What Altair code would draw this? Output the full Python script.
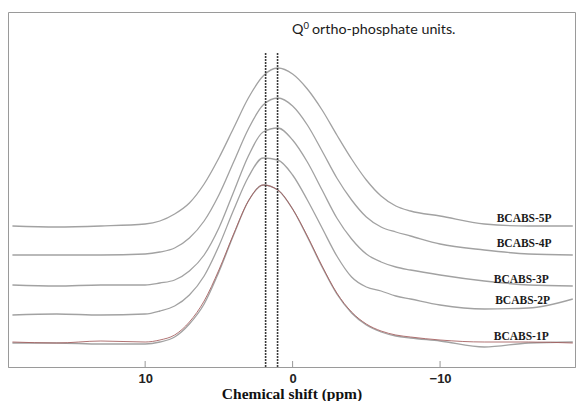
import altair as alt
import pandas as pd

# Chemical shift grid (ppm) at which each spectrum was read
ppm = [19, 16, 13, 10, 9, 8, 7, 6, 5, 4, 3, 2, 1, 0, -1, -2, -3, -4, -5, -6, -7, -8, -10, -13, -16, -19]

# Stacked 31P NMR intensities (arbitrary units, offset per sample)
bcabs_1p = [24, 24, 23, 23, 25, 30, 43, 63, 95, 132, 166, 182, 177, 158, 130, 100, 73, 54, 42, 35, 31, 29, 26, 20, 24, 25]
bcabs_1p_fit = [25, 24, 26, 25, 27, 32, 45, 66, 97, 133, 166, 182, 177, 158, 131, 101, 74, 55, 43, 36, 32, 30, 27, 25, 25, 24]
bcabs_2p = [52, 53, 52, 53, 56, 61, 72, 91, 121, 157, 190, 209, 207, 192, 167, 139, 111, 90, 80, 76, 71, 68, 62, 58, 59, 68]
bcabs_3p = [82, 81, 82, 82, 84, 87, 96, 112, 139, 175, 211, 235, 239, 227, 205, 177, 149, 128, 113, 105, 100, 97, 92, 86, 82, 81]
bcabs_4p = [112, 112, 112, 113, 115, 119, 129, 146, 172, 205, 238, 262, 269, 261, 242, 216, 189, 167, 150, 140, 135, 131, 123, 117, 113, 112]
bcabs_5p = [141, 140, 141, 143, 146, 153, 164, 183, 209, 239, 269, 291, 299, 293, 278, 257, 232, 208, 187, 171, 161, 156, 151, 143, 141, 141]

series_names = ["BCABS-1P", "BCABS-2P", "BCABS-3P", "BCABS-4P", "BCABS-5P"]
series_values = [bcabs_1p, bcabs_2p, bcabs_3p, bcabs_4p, bcabs_5p]

# Series labels (ppm position, intensity position)
label_ppm = [-15.5, -15.6, -15.5, -15.7, -15.7]
label_int = [30, 66, 87, 123, 148]

# Dashed reference lines (ppm) and their vertical extent (intensity units)
dash_ppm = [1.83, 1.02]
dash_top = [314, 314]
dash_bottom = [0, 0]

tick_values = [10, 0, -10]
title_main = "Q"
title_sup = "0"
title_rest = "ortho-phosphate units."

rows = []
for name, vals in zip(series_names, series_values):
    for p, v in zip(ppm, vals):
        rows.append({"series": name, "ppm": p, "intensity": v})
df = pd.DataFrame(rows)
df_fit = pd.DataFrame({"ppm": ppm, "intensity": bcabs_1p_fit})
df_labels = pd.DataFrame({"label": series_names, "ppm": label_ppm, "intensity": label_int})
df_dash = pd.DataFrame({"ppm": dash_ppm, "intensity": dash_top, "intensity2": dash_bottom})
df_ticks = pd.DataFrame({"ppm": tick_values})

x_scale = alt.Scale(domain=[19.3, -19.15], nice=False, zero=False)
y_scale = alt.Scale(domain=[0, 355], nice=False, zero=False)

x_axis = alt.Axis(values=tick_values, title="Chemical shift (ppm)", format="d")

lines = alt.Chart(df).mark_line(color="#a2a2a2", strokeWidth=1.3, interpolate="monotone", clip=True).encode(
    x=alt.X("ppm:Q", scale=x_scale, axis=x_axis),
    y=alt.Y("intensity:Q", scale=y_scale, axis=None),
    detail="series:N",
)

fit = alt.Chart(df_fit).mark_line(color="#a35a5a", strokeWidth=1.0, interpolate="monotone", clip=True, opacity=0.85).encode(
    x=alt.X("ppm:Q", scale=x_scale),
    y=alt.Y("intensity:Q", scale=y_scale),
)

dashes = alt.Chart(df_dash).mark_rule(color="#3a3a3a", strokeWidth=1.6, strokeDash=[2, 1]).encode(
    x=alt.X("ppm:Q", scale=x_scale),
    y=alt.Y("intensity:Q", scale=y_scale),
    y2=alt.Y2("intensity2:Q"),
)

ticks = alt.Chart(df_ticks).mark_rule(color="#999999", strokeWidth=1).encode(
    x=alt.X("ppm:Q", scale=x_scale),
    y=alt.value(349),
    y2=alt.value(355),
)

labels = alt.Chart(df_labels).mark_text(
    font="Liberation Serif", fontWeight="bold", fontSize=11.5, color="#1a1a1a",
    align="center", baseline="middle",
).encode(
    x=alt.X("ppm:Q", scale=x_scale),
    y=alt.Y("intensity:Q", scale=y_scale),
    text="label:N",
)

t_main = alt.Chart(pd.DataFrame({"t": [title_main]})).mark_text(
    font="Lato", fontSize=14.3, color="#1a1a1a", align="left", baseline="middle",
).encode(x=alt.value(284), y=alt.value(18), text="t:N")

t_sup = alt.Chart(pd.DataFrame({"t": [title_sup]})).mark_text(
    font="Lato", fontSize=9.5, color="#1a1a1a", align="left", baseline="middle",
).encode(x=alt.value(295.5), y=alt.value(14), text="t:N")

t_rest = alt.Chart(pd.DataFrame({"t": [title_rest]})).mark_text(
    font="Lato", fontSize=14.3, color="#1a1a1a", align="left", baseline="middle",
).encode(x=alt.value(304), y=alt.value(18), text="t:N")

chart = alt.layer(lines, fit, dashes, ticks, labels, t_main, t_sup, t_rest).properties(
    width=567,
    height=355,
    padding={"left": 8, "top": 12, "right": 2, "bottom": 34},
    autosize=alt.AutoSizeParams(type="none"),
    background="white",
).configure_view(
    stroke="#9a9a9a", strokeWidth=1,
).configure_axis(
    grid=False,
    ticks=False,
    domainColor="#9a9a9a",
    labelFont="Liberation Sans",
    labelFontWeight="bold",
    labelFontSize=13,
    labelColor="#222222",
    labelPadding=5,
    titleFont="Liberation Serif",
    titleFontWeight="bold",
    titleFontSize=15.5,
    titleColor="#111111",
    titlePadding=1,
)

chart.save("out.html", embed_options={"renderer": "svg", "actions": False})
